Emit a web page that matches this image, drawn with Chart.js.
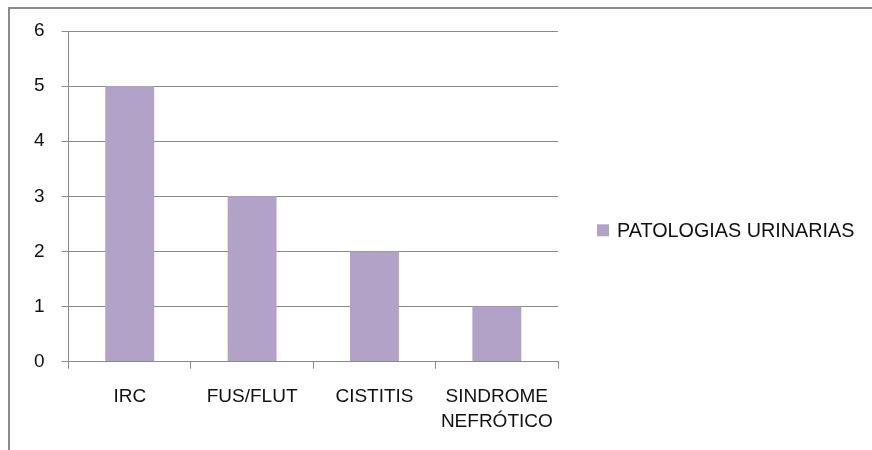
<!DOCTYPE html>
<html>
<head>
<meta charset="utf-8">
<title>Patologias urinarias</title>
<script src="https://cdn.jsdelivr.net/npm/chart.js"></script>
<style>
  html, body { margin: 0; padding: 0; background: #fff; }
  #wrap { position: relative; width: 872px; height: 450px; overflow: hidden; }
  #frame {
    position: absolute; left: 8px; top: 7px; width: 900px; height: 500px;
    border-top: 2px solid #8a8a8a; border-left: 2px solid #8a8a8a;
  }
  #chart { position: absolute; left: 0; top: 0; }
</style>
</head>
<body>
<div id="wrap">
  <div id="frame"></div>
  <canvas id="chart" width="872" height="450"></canvas>
</div>
<script>
var categories = ["IRC", "FUS/FLUT", "CISTITIS", ["SINDROME", "NEFRÓTICO"]];
var seriesName = "PATOLOGIAS URINARIAS";
var seriesValues = [5, 3, 2, 1];
var yTicks = [0, 1, 2, 3, 4, 5, 6];

var FONT = "'Liberation Sans', Arial, sans-serif";
var GRID = "#8a8a8a";
var TEXT = "#111";

// the built-in legend is capped at a quarter of the width on the right,
// so the single series key is painted here instead
var sideLegend = {
  id: "sideLegend",
  afterDraw: function (chart, args, opts) {
    var area = chart.chartArea;
    var ds = chart.data.datasets[0];
    var ctx = chart.ctx;
    var x = area.right + opts.gap;
    var y = (area.top + area.bottom) / 2 + opts.shiftY;
    ctx.save();
    ctx.fillStyle = ds.backgroundColor;
    ctx.fillRect(x, y - opts.box / 2, opts.box, opts.box);
    ctx.fillStyle = TEXT;
    ctx.font = opts.fontSize + "px " + FONT;
    ctx.textAlign = "left";
    ctx.textBaseline = "middle";
    ctx.fillText(ds.label, x + opts.box + 8, y + 1);
    ctx.restore();
  }
};

new Chart(document.getElementById("chart"), {
  type: "bar",
  plugins: [sideLegend],
  data: {
    labels: categories,
    datasets: [{
      label: seriesName,
      data: seriesValues,
      backgroundColor: "#b3a2c7",
      borderWidth: 0,
      categoryPercentage: 1,
      barPercentage: 0.4
    }]
  },
  options: {
    responsive: false,
    animation: false,
    layout: { padding: { left: 17, top: 31, right: 314, bottom: 0 } },
    plugins: {
      tooltip: { enabled: false },
      legend: { display: false },
      sideLegend: { gap: 39, shiftY: 34, box: 12, fontSize: 19.8 }
    },
    scales: {
      x: {
        grid: {
          drawOnChartArea: false,
          drawTicks: true,
          tickLength: 7,
          color: GRID,
          offset: true
        },
        border: { color: GRID, width: 1 },
        ticks: {
          color: TEXT,
          font: { family: FONT, size: 19, lineHeight: 1.3 },
          padding: 16,
          maxRotation: 0
        }
      },
      y: {
        min: 0,
        max: yTicks[yTicks.length - 1],
        afterBuildTicks: function (axis) {
          axis.ticks = yTicks.map(function (v) { return { value: v }; });
        },
        grid: {
          color: GRID,
          tickLength: 7,
          drawTicks: true
        },
        border: { color: GRID, width: 1 },
        ticks: {
          color: TEXT,
          font: { family: FONT, size: 19 },
          padding: 17
        }
      }
    }
  }
});
</script>
</body>
</html>
